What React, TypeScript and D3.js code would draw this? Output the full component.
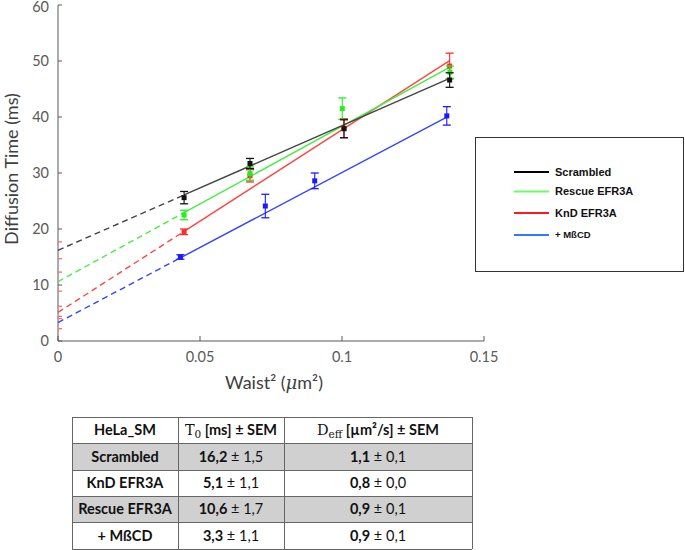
import React from "react";
import * as d3 from "d3";

const seriesNames = ["Scrambled", "Rescue EFR3A", "KnD EFR3A", "+ MßCD"];
const seriesColors = ["#111111", "#22ee22", "#ff2a2a", "#1a1aff"];
const lineColors = ["#444444", "#44ee44", "#ff4444", "#3344ff"];
const legendColors = ["#000000", "#66ff66", "#ff1a1a", "#2f7bff"];

const xScrambled = [0.0444, 0.0676, 0.1007, 0.1379];
const yScrambled = [25.6, 31.7, 37.9, 46.6];
const eScrambled = [1.1, 0.9, 1.6, 1.3];

const xRescue = [0.0444, 0.0676, 0.1001, 0.138];
const yRescue = [22.5, 29.9, 41.5, 48.0];
const eRescue = [0.85, 1.2, 1.9, 1.1];

const xKnD = [0.0444, 0.0676, 0.1007, 0.1379];
const yKnD = [19.5, 29.5, 38.0, 49.1];
const eKnD = [0.5, 1.1, 1.7, 2.3];

const xMbcd = [0.0431, 0.073, 0.0904, 0.1369];
const yMbcd = [15.0, 24.1, 28.6, 40.2];
const eMbcd = [0.4, 2.1, 1.4, 1.65];

const fitIntercept = [16.2, 10.6, 5.1, 3.3];
const fitSlope = [222.6, 277.5, 326, 268];
const interceptErr = [1.5, 1.7, 1.1, 1.1];

const xTicks = [0, 0.05, 0.1, 0.15];
const xTickLabels = ["0", "0.05", "0.1", "0.15"];
const yTicks = [0, 10, 20, 30, 40, 50, 60];

const tableNames = ["Scrambled", "KnD EFR3A", "Rescue EFR3A", "+ MßCD"];
const tableT0 = ["16,2", "5,1", "10,6", "3,3"];
const tableT0Sem = ["1,5", "1,1", "1,7", "1,1"];
const tableDeff = ["1,1", "0,8", "0,9", "0,9"];
const tableDeffSem = ["0,1", "0,0", "0,1", "0,1"];
const tableShaded = [true, false, true, false];

const allX = [xScrambled, xRescue, xKnD, xMbcd];
const allY = [yScrambled, yRescue, yKnD, yMbcd];
const allE = [eScrambled, eRescue, eKnD, eMbcd];

const FONT = "Lato, 'Open Sans', sans-serif";
const AXIS_GRAY = "#595959";

export default function App() {
  const x = d3.scaleLinear().domain([0, 0.15]).range([58, 484]);
  const y = d3.scaleLinear().domain([0, 60]).range([341, 5]);
  const line = d3
    .line<[number, number]>()
    .x((d) => x(d[0]))
    .y((d) => y(d[1]));

  const order = [3, 2, 1, 0];

  const tX = [72, 178, 284, 472];
  const tRowY = [417, 443, 470, 496, 522, 549];

  return (
    <svg
      width={685}
      height={550}
      style={{ position: "absolute", left: 0, top: 0, background: "#fff" }}
      fontFamily={FONT}
    >
      {/* axes */}
      <line x1={x(0)} x2={x(0)} y1={y(0)} y2={y(60)} stroke={AXIS_GRAY} strokeWidth={1} />
      <line x1={x(0)} x2={x(0.15)} y1={y(0)} y2={y(0)} stroke={AXIS_GRAY} strokeWidth={1} />
      {yTicks.map((t) => (
        <g key={"yt" + t}>
          <line x1={x(0)} x2={x(0) + 4} y1={y(t)} y2={y(t)} stroke={AXIS_GRAY} />
          <text
            x={49}
            y={Math.max(y(t), 6.5)}
            dy="0.35em"
            textAnchor="end"
            fontSize={14.5}
            fill={AXIS_GRAY}
          >
            {t}
          </text>
        </g>
      ))}
      {xTicks.map((t, i) => (
        <g key={"xt" + t}>
          <line x1={x(t)} x2={x(t)} y1={y(0)} y2={y(0) - 5} stroke={AXIS_GRAY} />
          <text
            x={x(t)}
            y={362}
            textAnchor="middle"
            fontSize={14.5}
            fill={AXIS_GRAY}
          >
            {xTickLabels[i]}
          </text>
        </g>
      ))}
      <text
        transform={`translate(18,${(y(0) + y(60)) / 2 - 4}) rotate(-90)`}
        textAnchor="middle"
        fontSize={18}
        fill="#404040"
      >
        Diffusion Time (ms)
      </text>
      <text x={274} y={389} textAnchor="middle" fontSize={18} fill="#404040">
        Waist² (<tspan fontStyle="italic" fontFamily="'DejaVu Serif', serif">μ</tspan>m²)
      </text>

      {/* intercept error caps */}
      {fitIntercept.map((b, i) => (
        <g key={"ic" + i}>
          <line x1={x(0)} x2={x(0) + 4} y1={y(b + interceptErr[i])} y2={y(b + interceptErr[i])} stroke="#ff6b6b" strokeWidth={1.3} />
          <line x1={x(0)} x2={x(0) + 4} y1={y(b - interceptErr[i])} y2={y(b - interceptErr[i])} stroke="#ff6b6b" strokeWidth={1.3} />
        </g>
      ))}

      {/* fit lines */}
      {order.map((i) => {
        const xs = allX[i];
        const x0 = xs[0];
        const x1 = xs[xs.length - 1];
        const f = (v: number) => fitIntercept[i] + fitSlope[i] * v;
        return (
          <g key={"fit" + i}>
            <path
              d={line([[0, f(0)], [x0, f(x0)]]) || ""}
              stroke={lineColors[i]}
              strokeWidth={1.4}
              strokeDasharray="6,4"
              fill="none"
            />
            <path
              d={line([[x0, f(x0)], [x1, f(x1)]]) || ""}
              stroke={lineColors[i]}
              strokeWidth={1.4}
              fill="none"
            />
          </g>
        );
      })}

      {/* points with error bars */}
      {order.map((i) => (
        <g key={"pts" + i}>
          {allX[i].map((xv, j) => {
            const yv = allY[i][j];
            const e = allE[i][j];
            const cx = x(xv);
            return (
              <g key={j}>
                <line x1={cx} x2={cx} y1={y(yv - e)} y2={y(yv + e)} stroke={seriesColors[i]} strokeWidth={1.1} />
                <line x1={cx - 4} x2={cx + 4} y1={y(yv - e)} y2={y(yv - e)} stroke={seriesColors[i]} strokeWidth={1.3} />
                <line x1={cx - 4} x2={cx + 4} y1={y(yv + e)} y2={y(yv + e)} stroke={seriesColors[i]} strokeWidth={1.3} />
                <rect x={cx - 2.5} y={y(yv) - 2.5} width={5} height={5} fill={seriesColors[i]} />
              </g>
            );
          })}
        </g>
      ))}

      {/* legend */}
      <rect x={475.5} y={137.5} width={208} height={134} fill="#fff" stroke="#333" strokeWidth={1} />
      {seriesNames.map((n, i) => {
        const ly = [172, 191.5, 213, 235][i];
        return (
          <g key={"lg" + n}>
            <line x1={514} x2={549} y1={ly} y2={ly} stroke={legendColors[i]} strokeWidth={2} />
            <text
              x={555}
              y={ly}
              dy="0.35em"
              fontSize={i === 3 ? 9.5 : 11}
              fontWeight="bold"
              fontFamily="'Liberation Sans', Arial, sans-serif"
              fill="#111"
            >
              {n}
            </text>
          </g>
        );
      })}

      {/* table */}
      {tableNames.map((n, r) =>
        tableShaded[r] ? (
          <rect
            key={"sh" + r}
            x={tX[0]}
            y={tRowY[r + 1]}
            width={tX[3] - tX[0]}
            height={tRowY[r + 2] - tRowY[r + 1]}
            fill="#d0d0d0"
          />
        ) : null
      )}
      {tRowY.map((ry, k) => (
        <line key={"hr" + k} x1={tX[0]} x2={tX[3]} y1={ry + 0.5} y2={ry + 0.5} stroke="#666" strokeWidth={1} />
      ))}
      {tX.map((cx, k) => (
        <line key={"vr" + k} x1={cx + 0.5} x2={cx + 0.5} y1={tRowY[0]} y2={tRowY[5]} stroke="#666" strokeWidth={1} />
      ))}
      <text x={(tX[0] + tX[1]) / 2} y={(tRowY[0] + tRowY[1]) / 2} dy="0.35em" textAnchor="middle" fontSize={14.5} fontWeight="bold" fill="#111">
        HeLa_SM
      </text>
      <text x={(tX[1] + tX[2]) / 2} y={(tRowY[0] + tRowY[1]) / 2} dy="0.35em" textAnchor="middle" fontSize={14.5} fontWeight="bold" fill="#111">
        <tspan fontFamily="'DejaVu Serif', 'Liberation Serif', serif" fontWeight="normal">T</tspan>
        <tspan fontFamily="'DejaVu Serif', 'Liberation Serif', serif" fontWeight="normal" fontSize={10.5} dy="3">0</tspan>
        <tspan dy="-3"> [ms] ± SEM</tspan>
      </text>
      <text x={(tX[2] + tX[3]) / 2} y={(tRowY[0] + tRowY[1]) / 2} dy="0.35em" textAnchor="middle" fontSize={14.5} fontWeight="bold" fill="#111">
        <tspan fontFamily="'DejaVu Serif', 'Liberation Serif', serif" fontWeight="normal">D</tspan>
        <tspan fontFamily="'DejaVu Serif', 'Liberation Serif', serif" fontWeight="normal" fontSize={10.5} dy="3">eff</tspan>
        <tspan dy="-3"> [µm²/s] ± SEM</tspan>
      </text>
      {tableNames.map((n, r) => {
        const cy = (tRowY[r + 1] + tRowY[r + 2]) / 2;
        return (
          <g key={"row" + r}>
            <text x={(tX[0] + tX[1]) / 2} y={cy} dy="0.35em" textAnchor="middle" fontSize={14.5} fontWeight="bold" fill="#111">
              {n}
            </text>
            <text x={(tX[1] + tX[2]) / 2} y={cy} dy="0.35em" textAnchor="middle" fontSize={14.5} fill="#111">
              <tspan fontWeight="bold">{tableT0[r]}</tspan>
              <tspan> ± {tableT0Sem[r]}</tspan>
            </text>
            <text x={(tX[2] + tX[3]) / 2} y={cy} dy="0.35em" textAnchor="middle" fontSize={14.5} fill="#111">
              <tspan fontWeight="bold">{tableDeff[r]}</tspan>
              <tspan> ± {tableDeffSem[r]}</tspan>
            </text>
          </g>
        );
      })}
    </svg>
  );
}
